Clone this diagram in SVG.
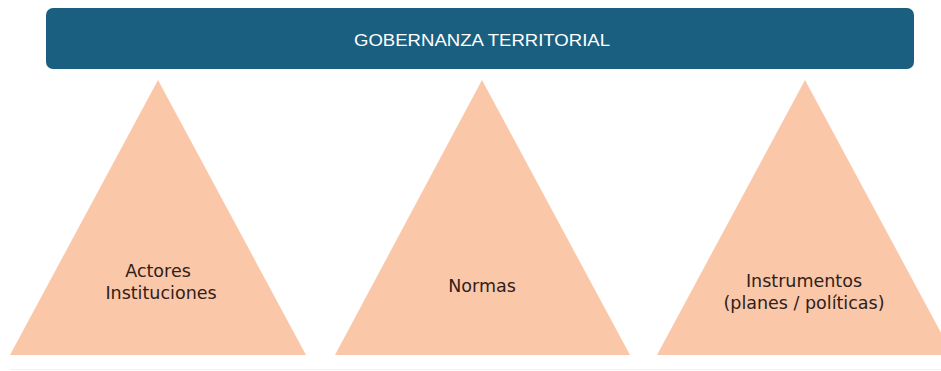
<svg xmlns="http://www.w3.org/2000/svg" width="941" height="371" viewBox="0 0 941 371">
<style>
.tri{fill:#fbc7a9}
.lbl{font-family:"DejaVu Sans",sans-serif;font-size:17.5px;fill:#2e211a;text-anchor:middle}
.title{font-family:"Liberation Sans",Arial,sans-serif;font-size:17px;fill:#ffffff;text-anchor:middle}
</style>
<rect width="941" height="371" fill="#ffffff"/>
<g id="header">
<rect x="46" y="8" width="868" height="61" rx="7" fill="#1a5f80"/>
<text class="title" x="482" y="46" textLength="256" lengthAdjust="spacingAndGlyphs">GOBERNANZA TERRITORIAL</text>
</g>
<g id="actores">
<polygon class="tri" points="158,80 306,355 10,355"/>
<text class="lbl" x="158" y="277">Actores</text>
<text class="lbl" x="161" y="299">Instituciones</text>
</g>
<g id="normas">
<polygon class="tri" points="482,80 630,355 335,355"/>
<text class="lbl" x="482" y="292">Normas</text>
</g>
<g id="instrumentos">
<polygon class="tri" points="805,80 953,355 657,355"/>
<text class="lbl" x="804" y="287">Instrumentos</text>
<text class="lbl" x="804" y="309">(planes / políticas)</text>
</g>
<g id="connectors"></g>
<line x1="10" y1="369.5" x2="941" y2="369.5" stroke="#e3f6fb" stroke-width="1"/>
</svg>
